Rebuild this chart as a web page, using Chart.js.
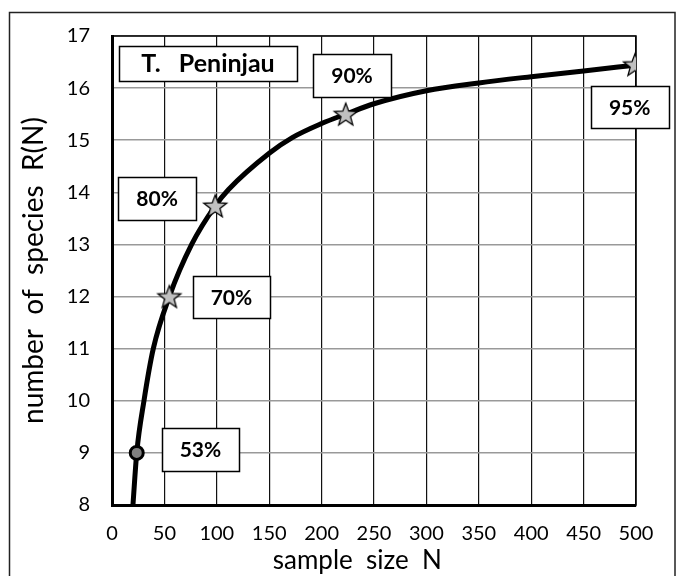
<!DOCTYPE html>
<html>
<head>
<meta charset="utf-8">
<script src="https://cdn.jsdelivr.net/npm/chart.js@4/dist/chart.umd.min.js"></script>
<style>
  html, body { margin: 0; padding: 0; background: #fff; }
  #wrap { width: 676px; height: 576px; }
</style>
</head>
<body>
<div id="wrap"><canvas id="c" width="676" height="576"></canvas></div>
<script>
// ---- data ----
const sampleSizes = [20, 23.6, 30.5, 39.4, 54.7, 76, 98.5, 111, 150, 172, 200, 223, 250, 300, 350, 400, 450, 499];
const speciesCounts = [8, 9, 10, 11, 12, 13, 13.74, 14.05, 14.75, 15.05, 15.32, 15.5, 15.7, 15.95, 16.1, 16.22, 16.33, 16.44];

const starN = [54.7, 98.5, 223, 499];
const starR = [12, 13.74, 15.5, 16.45];
const circleN = [23.6];
const circleR = [9];

const xTicks = [0, 50, 100, 150, 200, 250, 300, 350, 400, 450, 500];
const yTicks = [8, 9, 10, 11, 12, 13, 14, 15, 16, 17];

const labelTexts = ['T.   Peninjau', '90%', '95%', '80%', '70%', '53%'];
const labelN = [91.6, 229, 494, 43, 114, 84.4];
const labelR = [16.48, 16.24, 15.64, 13.88, 11.99, 9.07];

const xTitle = 'sample  size  N     ';
const yTitle = 'number  of  species  R(N)';

const FONT = 'Lato, "Open Sans", sans-serif';

// star marker image
function makeStar(r) {
  const s = Math.ceil(r * 2 + 4);
  const c = document.createElement('canvas');
  c.width = s; c.height = s;
  const g = c.getContext('2d');
  g.translate(s / 2, s / 2 + 1);
  g.beginPath();
  for (let i = 0; i < 10; i++) {
    const rad = (i % 2) ? r * 0.42 : r;
    const a = -Math.PI / 2 + i * Math.PI / 5;
    g.lineTo(rad * Math.cos(a), rad * Math.sin(a));
  }
  g.closePath();
  g.fillStyle = '#c0c0c0';
  g.fill();
  g.lineWidth = 1.3;
  g.strokeStyle = '#000';
  g.stroke();
  return c;
}
const starImg = makeStar(12);

const zip = (xs, ys) => xs.map((x, i) => ({x: x, y: ys[i]}));

const framePlugin = {
  id: 'frame',
  beforeDatasetsDraw(chart) {
    const {ctx, chartArea: a} = chart;
    ctx.save();
    ctx.strokeStyle = '#000';
    ctx.lineWidth = 1.5;
    ctx.strokeRect(a.left, a.top, a.right - a.left, a.bottom - a.top);
    ctx.restore();
  },
  afterDraw(chart) {
    const {ctx} = chart;
    ctx.save();
    ctx.strokeStyle = '#222';
    ctx.lineWidth = 1.5;
    ctx.strokeRect(9.5, 12.5, 665.5, 620);
    ctx.restore();
  }
};

const boxSizes = [[178, 35], [78, 43], [78, 42], [78, 43], [77, 42], [77, 43]];
const labelPlugin = {
  id: 'labels',
  afterDatasetsDraw(chart) {
    const {ctx} = chart;
    const xs = chart.scales.x, ys = chart.scales.y;
    ctx.save();
    labelTexts.forEach((t, i) => {
      const cx = xs.getPixelForValue(labelN[i]);
      const cy = ys.getPixelForValue(labelR[i]);
      const [w, h] = boxSizes[i];
      const l = Math.round(cx - w / 2) + 0.5, tp = Math.round(cy - h / 2) + 0.5;
      ctx.fillStyle = '#fff';
      ctx.fillRect(l, tp, w, h);
      ctx.strokeStyle = '#000';
      ctx.lineWidth = 1.5;
      ctx.strokeRect(l, tp, w, h);
      ctx.fillStyle = '#000';
      ctx.font = 'bold ' + (i === 0 ? 25 : 21) + 'px ' + FONT;
      ctx.textAlign = 'center';
      ctx.textBaseline = 'middle';
      ctx.fillText(t, cx, cy + 1);
    });
    ctx.restore();
  }
};

new Chart(document.getElementById('c'), {
  type: 'scatter',
  data: {
    datasets: [
      {
        data: zip(circleN, circleR),
        pointStyle: 'circle',
        pointRadius: 6.5,
        pointBorderWidth: 3,
        pointBackgroundColor: '#808080',
        pointBorderColor: '#000',
        showLine: false
      },
      {
        data: zip(starN, starR),
        pointStyle: starImg,
        pointRadius: 12,
        showLine: false
      },
      {
        data: zip(sampleSizes, speciesCounts),
        showLine: true,
        borderColor: '#000',
        borderWidth: 5,
        pointRadius: 0,
        cubicInterpolationMode: 'monotone',
        fill: false
      }
    ]
  },
  options: {
    responsive: false,
    animation: false,
    layout: { padding: { left: 0, top: 36, right: 40, bottom: 0 } },
    plugins: { legend: { display: false }, tooltip: { enabled: false } },
    scales: {
      x: {
        type: 'linear',
        min: 0, max: 500,
        afterBuildTicks: (s) => { s.ticks = xTicks.map(v => ({value: v})); },
        afterFit: (s) => { s.height = 71; },
        ticks: { color: '#000', font: { family: FONT, size: 20 }, padding: 17, maxRotation: 0 },
        grid: { color: '#111', lineWidth: 1.2, drawTicks: false },
        border: { color: '#000', width: 3 },
        title: { display: true, text: xTitle, color: '#000', font: { family: FONT, size: 26 }, padding: { top: 0, bottom: 0 } }
      },
      y: {
        type: 'linear',
        min: 8, max: 17,
        afterBuildTicks: (s) => { s.ticks = yTicks.map(v => ({value: v})); },
        afterFit: (s) => { s.width = 112; },
        ticks: { color: '#000', font: { family: FONT, size: 20 }, padding: 22 },
        grid: { color: '#999', lineWidth: 1.5, drawTicks: false },
        border: { color: '#000', width: 3 },
        title: { display: true, text: yTitle, color: '#000', font: { family: FONT, size: 28 }, padding: { top: 17, bottom: 0 } }
      }
    }
  },
  plugins: [framePlugin, labelPlugin]
});
</script>
</body>
</html>
